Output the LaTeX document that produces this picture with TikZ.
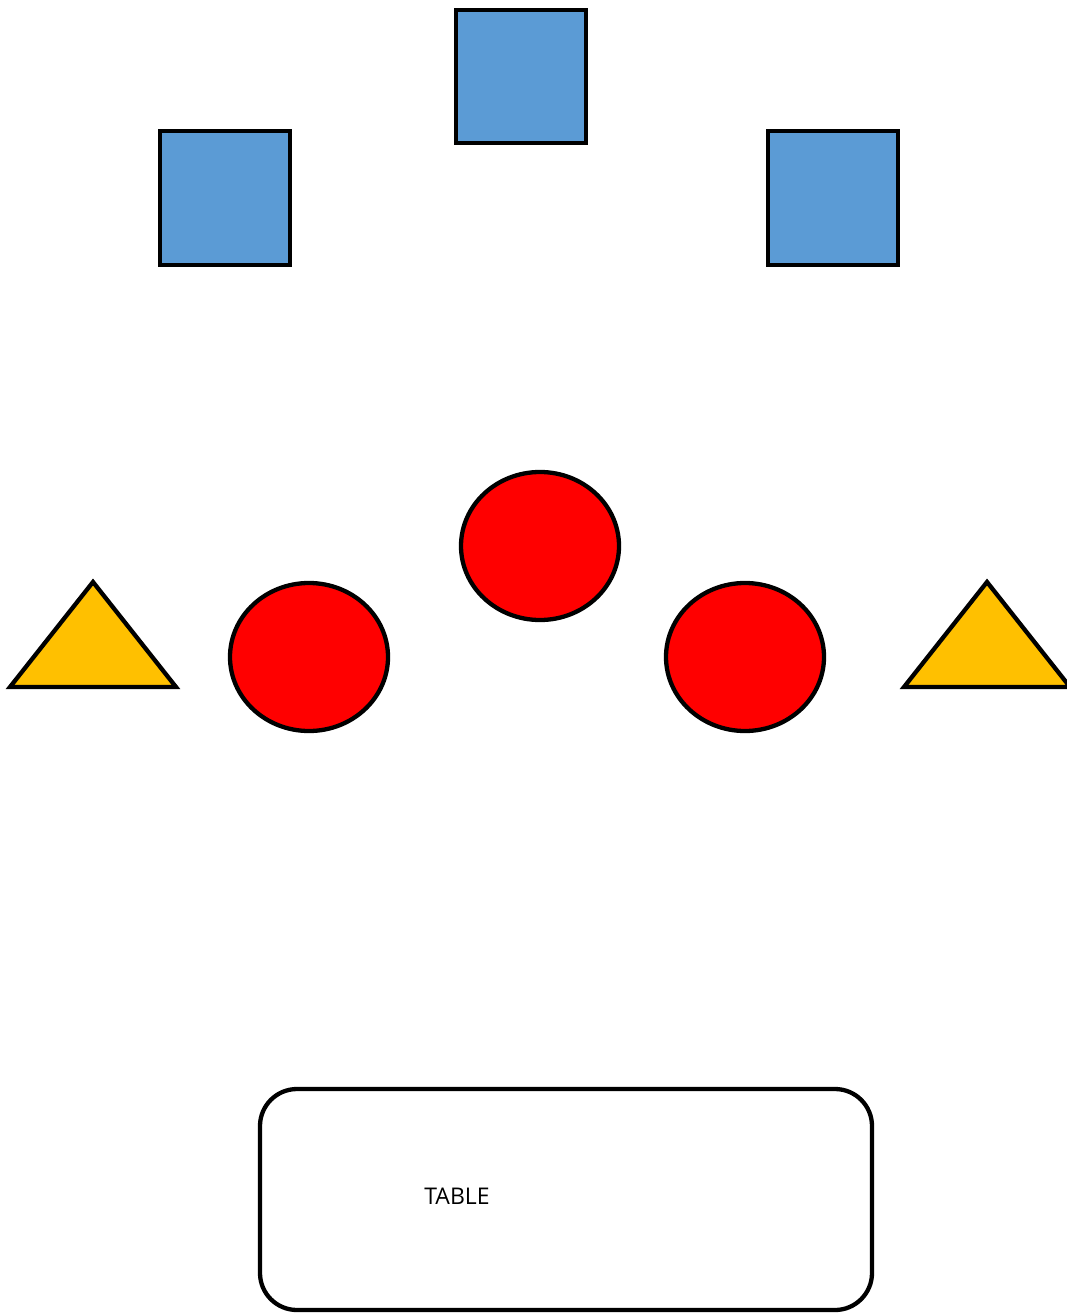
\documentclass[tikz,border=0pt]{standalone}
\usepackage{fontspec}
\setmainfont{Open Sans}
\definecolor{sqblue}{HTML}{5B9BD5}
\definecolor{tri}{HTML}{FFC000}
\begin{document}
\begin{tikzpicture}[x=1pt,y=-1pt,
  sq/.style={draw=black,line width=4.3pt,fill=sqblue},
  circ/.style={draw=black,line width=4.3pt,fill=red},
  trishape/.style={draw=black,line width=4.3pt,fill=tri},
  tablebox/.style={draw=black,line width=4.3pt,rounded corners=37pt}]
\useasboundingbox (0,0) rectangle (1066,1313);
\draw[sq] (456,10) rectangle (586,143);
\draw[sq] (160,131) rectangle (290,265);
\draw[sq] (768,131) rectangle (898,265);
\draw[circ] (540,546) ellipse [x radius=79, y radius=74];
\draw[circ] (309,657) ellipse [x radius=79, y radius=74];
\draw[circ] (745,657) ellipse [x radius=79, y radius=74];
\draw[trishape] (93,582) -- (176,687) -- (10,687) -- cycle;
\draw[trishape] (987,582) -- (1070,687) -- (904,687) -- cycle;
\draw[tablebox] (260,1089) rectangle (872,1310);
\node[font=\fontsize{23}{27}\selectfont, inner sep=0pt] (t) at (457,1196) {TABLE};
\end{tikzpicture}
\end{document}
